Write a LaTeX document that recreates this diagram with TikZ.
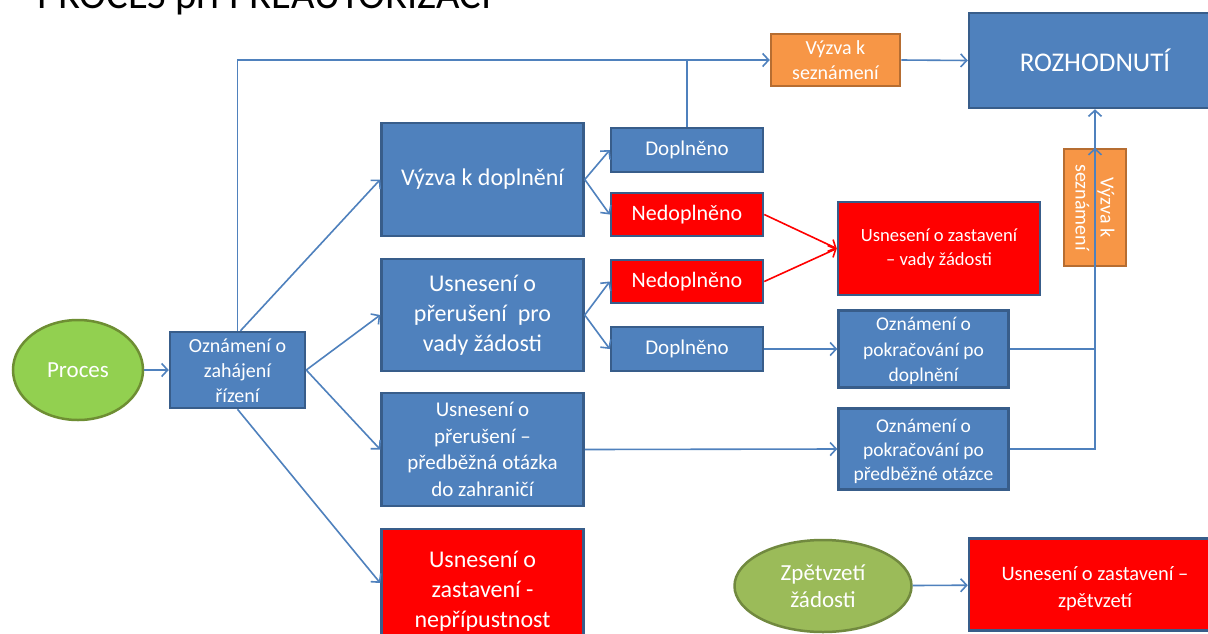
\documentclass[tikz,border=0pt]{standalone}
\usepackage{fontspec}
\setmainfont{Carlito}
\usetikzlibrary{arrows.meta,shapes.geometric}
\definecolor{blu}{HTML}{4F81BD}
\definecolor{bdr}{HTML}{385D8A}
\definecolor{org}{HTML}{F79646}
\definecolor{orgb}{HTML}{B66D31}
\definecolor{grnA}{HTML}{92D050}
\definecolor{grnAb}{HTML}{6E8E33}
\definecolor{grnB}{HTML}{9BBB59}
\definecolor{grnBb}{HTML}{71893F}
\newcommand\fsz[2]{\fontsize{#1}{#2}\selectfont}
% lower a centred block of lines without changing its reported size
\newcommand\dn[2]{\raisebox{-#1}[\height][\depth]{\begin{tabular}{@{}c@{}}#2\end{tabular}}}
\tikzset{
  box/.style={draw=bdr, fill=blu, line width=2.5pt, text=white, align=center, inner sep=0pt, rectangle},
  redbox/.style={box, fill=red},
  orgbox/.style={box, fill=org, draw=orgb},
  ell/.style={ellipse, line width=2.5pt, text=white, align=center, inner sep=0pt},
  conn/.style={draw=blu, line width=1.6pt, -{Straight Barb[length=6pt,width=13pt]}},
  plain/.style={draw=blu, line width=1.6pt},
  rconn/.style={draw=red, line width=1.6pt, -{Straight Barb[length=6pt,width=13pt]}},
}
\begin{document}
\begin{tikzpicture}[x=1pt,y=-1pt]
\useasboundingbox (0,0) rectangle (1208,633);
\clip (0,0) rectangle (1208,633);
\fill[white] (0,0) rectangle (1208,633);
% title (cut off at the top in the reference)
\node[anchor=base west, inner sep=0pt, font=\fsz{40.5}{48}] (title) at (37,8.5) {PROCES při PREAUTORIZACI};
% nodes
\node[ell, fill=grnA, draw=grnAb, minimum width=130pt, minimum height=100pt, font=\fsz{23}{27}] (proc) at (78,370) {Proces};
\node[box, minimum width=135pt, minimum height=76pt, font=\fsz{20}{25}] (ozn) at (237.5,370) {\dn{2.5pt}{Oznámení o\\zahájení\\řízení}};
\node[box, minimum width=202pt, minimum height=113pt, font=\fsz{24}{29}] (vyzva) at (482.5,179.5) {Výzva k doplnění};
\node[box, minimum width=202pt, minimum height=112pt, font=\fsz{24}{30}] (uspr) at (482.5,315) {Usnesení o\\přerušení\ \ pro\\vady žádosti};
\node[box, minimum width=202pt, minimum height=113pt, font=\fsz{21}{26.5}] (uspred) at (482.5,449.5) {Usnesení o\\přerušení –\\předběžná otázka\\do zahraničí};
\node[redbox, minimum width=202pt, minimum height=118pt, font=\fsz{24}{30}] (nepr) at (482.5,588) {\dn{3pt}{Usnesení o\\zastavení -\\nepřípustnost}};
\node[box, minimum width=152pt, minimum height=44pt, font=\fsz{21}{24}] (dop1) at (687,150) {Doplněno};
\node[redbox, minimum width=152pt, minimum height=43pt, font=\fsz{22}{26}] (ned1) at (687,214.5) {Nedoplněno};
\node[redbox, minimum width=152pt, minimum height=43pt, font=\fsz{22}{26}] (ned2) at (687,281.5) {Nedoplněno};
\node[box, minimum width=152pt, minimum height=44pt, font=\fsz{21}{24}] (dop2) at (687,349) {Doplněno};
\node[redbox, minimum width=202pt, minimum height=93pt, font=\fsz{18.6}{24}] (zastvady) at (939,248.5) {Usnesení o zastavení\\– vady žádosti};
\node[box, minimum width=170pt, minimum height=77pt, font=\fsz{19.5}{25.5}] (pokdop) at (923.5,349) {\dn{2pt}{Oznámení o\\pokračování po\\doplnění}};
\node[box, minimum width=170pt, minimum height=81pt, font=\fsz{19.5}{24}] (pokpred) at (923.5,449) {\dn{3pt}{Oznámení o\\pokračování po\\předběžné otázce}};
\node[orgbox, minimum width=129pt, minimum height=52pt, font=\fsz{20}{25}] (vyzsez) at (835.5,60) {\dn{1.5pt}{Výzva k\\seznámení}};
\node[box, minimum width=252pt, minimum height=95pt, font=\fsz{27}{32}] (rozh) at (1095,60.5) {ROZHODNUTÍ};
\node[orgbox, minimum width=117pt, minimum height=62pt, rotate=-90, font=\fsz{20}{25}] (vyzsez2) at (1095,207.5) {Výzva k\\seznámení};
\node[ell, fill=grnB, draw=grnBb, minimum width=177pt, minimum height=92pt, font=\fsz{23}{27}] (zpet) at (823,586) {\dn{2.5pt}{Zpětvzetí\\žádosti}};
\node[redbox, minimum width=252pt, minimum height=92pt, font=\fsz{20.5}{27}] (zastzpet) at (1095,584.5) {\dn{4.5pt}{Usnesení o zastavení –\\zpětvzetí}};
% connectors
\draw[conn] (proc) -- (ozn);
\draw[conn] (ozn.north) |- (vyzsez.west);
\draw[plain] (dop1.north) -- (dop1.north |- vyzsez.west);
\draw[conn] ([xshift=3pt]ozn.north) -- (vyzva.west);
\draw[conn] (ozn.east) -- (uspr.west);
\draw[conn] (ozn.east) -- (uspred.west);
\draw[conn] (ozn.south) -- ([yshift=5pt]nepr.west);
\draw[conn] (vyzva.east) -- (dop1.west);
\draw[conn] (vyzva.east) -- (ned1.west);
\draw[conn] (uspr.east) -- (ned2.west);
\draw[conn] (uspr.east) -- (dop2.west);
\draw[rconn] (ned1.east) -- (zastvady.west);
\draw[rconn] (ned2.east) -- (zastvady.west);
\draw[conn] (dop2.east) -- (pokdop.west);
\draw[conn] (uspred.east) -- (pokpred.west);
\draw[plain] (pokdop.east) -- (pokdop.east -| vyzsez2.west);
\draw[conn] (pokpred.east) -| (vyzsez2.west);
\draw[conn] (vyzsez2.east) -- (rozh.south);
\draw[conn] (vyzsez.east) -- (rozh.west);
\draw[conn] (zpet) -- (zastzpet);
\end{tikzpicture}
\end{document}
